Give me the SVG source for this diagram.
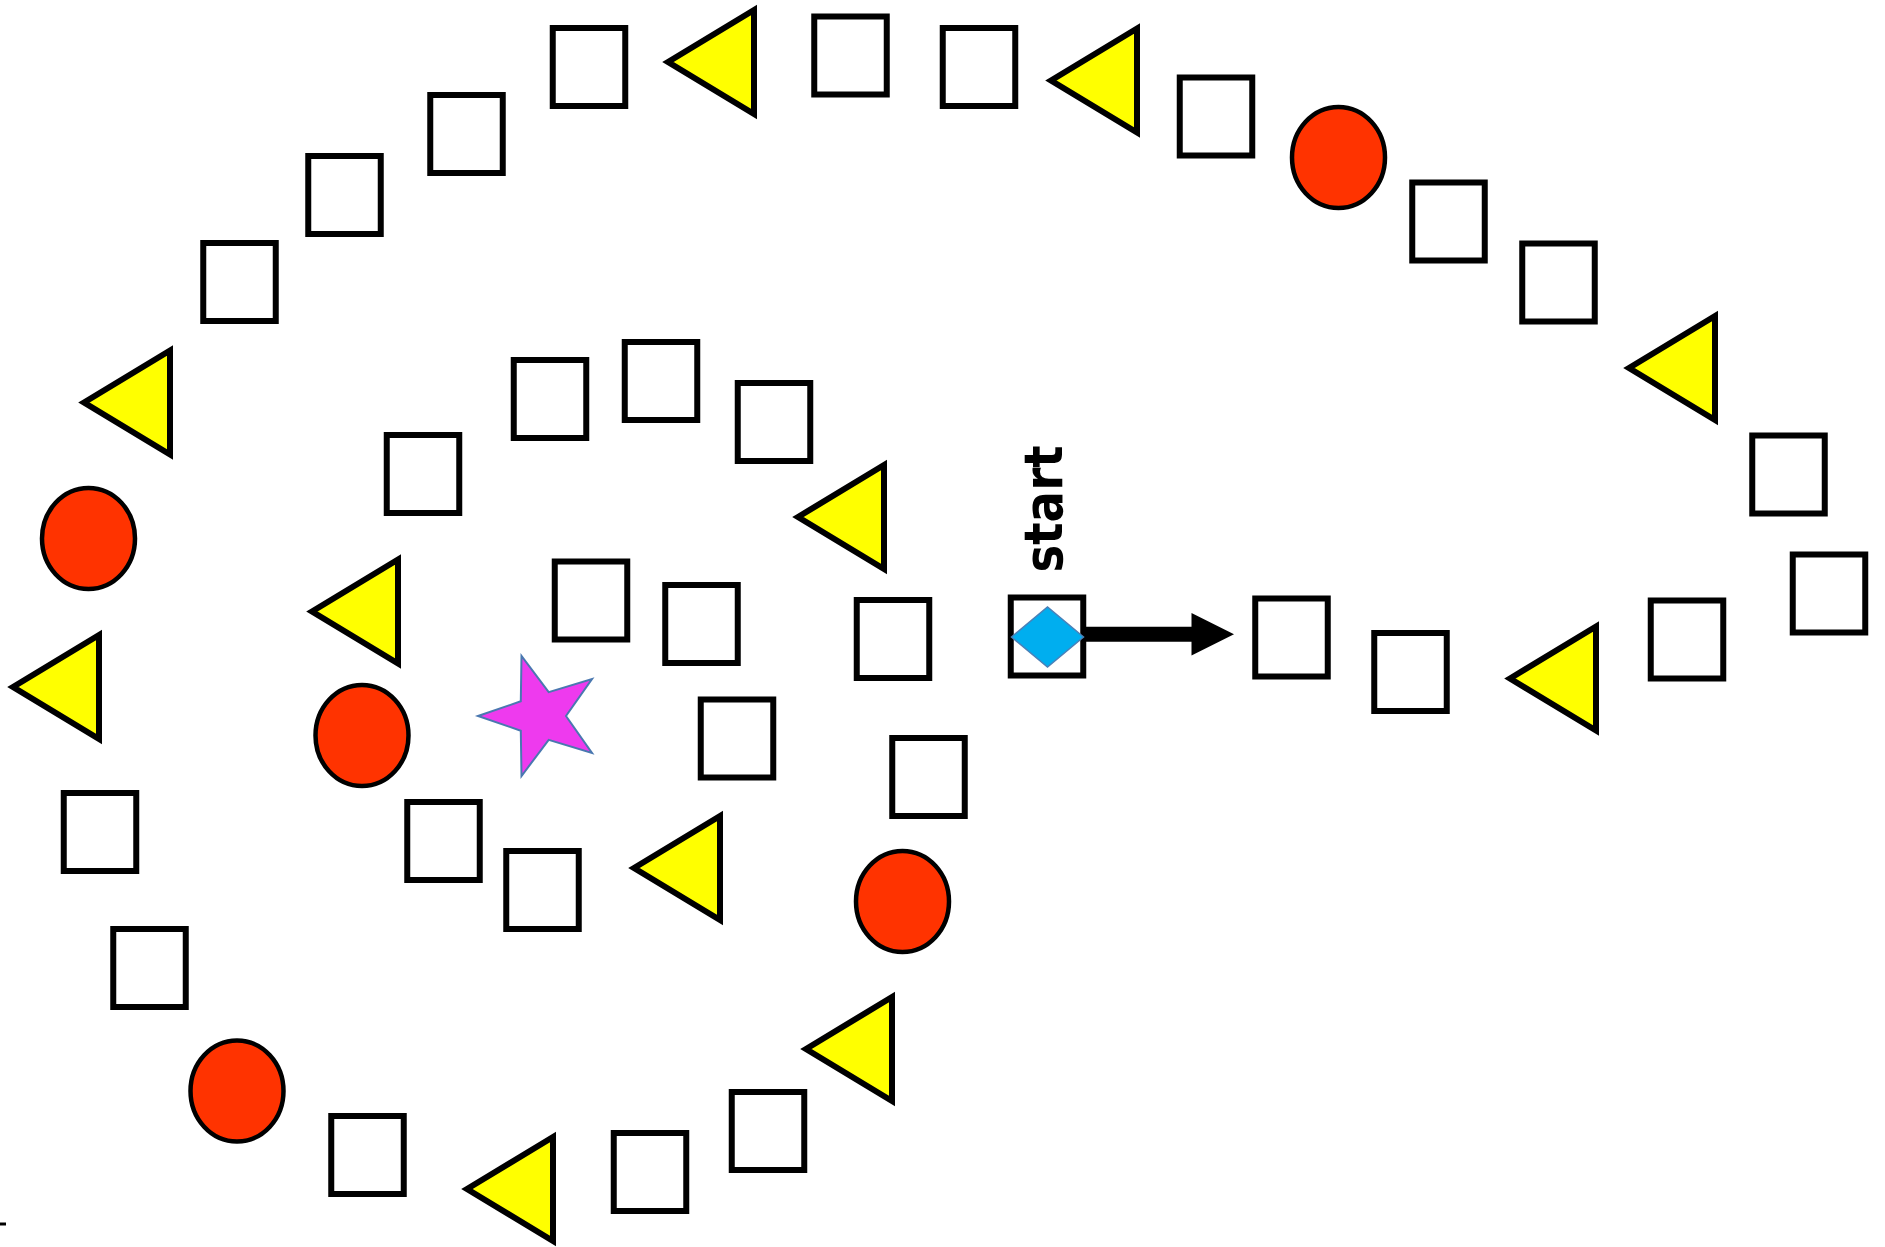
<svg xmlns="http://www.w3.org/2000/svg" width="1885" height="1247" viewBox="0 0 1885 1247">
<defs>
<style>
.sq{fill:#fff;stroke:#000;stroke-width:6}
.tri{fill:#ffff00;stroke:#000;stroke-width:6;stroke-linejoin:miter;stroke-miterlimit:10}
.cir{fill:#ff3300;stroke:#000;stroke-width:4.5}
.lbl{font-family:"DejaVu Sans","Liberation Sans",sans-serif;font-size:54px;font-weight:bold;fill:#000}
</style>
<rect id="sqr" class="sq" x="-36.25" y="-39" width="72.5" height="78"/>
<path id="trg" class="tri" d="M-43,0 L43,-52 L43,52 Z"/>
<ellipse id="crc" class="cir" cx="0" cy="0" rx="46.5" ry="50.5"/>
</defs>
<rect width="1885" height="1247" fill="#fff"/>
<g id="sq1"><use href="#sqr" x="589" y="67"/></g>
<g id="sq2"><use href="#sqr" x="850.5" y="55.5"/></g>
<g id="sq3"><use href="#sqr" x="979" y="67"/></g>
<g id="sq4"><use href="#sqr" x="1216" y="116.5"/></g>
<g id="sq5"><use href="#sqr" x="466.5" y="134"/></g>
<g id="sq6"><use href="#sqr" x="344.5" y="195"/></g>
<g id="sq7"><use href="#sqr" x="239.5" y="282"/></g>
<g id="sq8"><use href="#sqr" x="1448.5" y="221.5"/></g>
<g id="sq9"><use href="#sqr" x="1558.5" y="282.5"/></g>
<g id="sq10"><use href="#sqr" x="550" y="399"/></g>
<g id="sq11"><use href="#sqr" x="661" y="381"/></g>
<g id="sq12"><use href="#sqr" x="774" y="422"/></g>
<g id="sq13"><use href="#sqr" x="423" y="474"/></g>
<g id="sq14"><use href="#sqr" x="1788.5" y="474.5"/></g>
<g id="sq15"><use href="#sqr" x="1829" y="593.5"/></g>
<g id="sq16"><use href="#sqr" x="591" y="600.5"/></g>
<g id="sq17"><use href="#sqr" x="701.5" y="624"/></g>
<g id="sq18"><use href="#sqr" x="893" y="639"/></g>
<g id="sq20"><use href="#sqr" x="1291.5" y="637.5"/></g>
<g id="sq21"><use href="#sqr" x="1410.5" y="672"/></g>
<g id="sq22"><use href="#sqr" x="1687" y="639.5"/></g>
<g id="sq23"><use href="#sqr" x="737" y="738.5"/></g>
<g id="sq24"><use href="#sqr" x="928.5" y="777"/></g>
<g id="sq25"><use href="#sqr" x="100" y="832"/></g>
<g id="sq26"><use href="#sqr" x="443.5" y="841"/></g>
<g id="sq27"><use href="#sqr" x="542.5" y="890"/></g>
<g id="sq28"><use href="#sqr" x="149.5" y="968"/></g>
<g id="sq29"><use href="#sqr" x="367.5" y="1155"/></g>
<g id="sq30"><use href="#sqr" x="650" y="1172"/></g>
<g id="sq31"><use href="#sqr" x="768" y="1131"/></g>
<g id="tri1"><use href="#trg" x="711" y="62"/></g>
<g id="tri2"><use href="#trg" x="1094" y="80.5"/></g>
<g id="tri3"><use href="#trg" x="127" y="402.5"/></g>
<g id="tri4"><use href="#trg" x="1672" y="368"/></g>
<g id="tri5"><use href="#trg" x="841" y="517"/></g>
<g id="tri6"><use href="#trg" x="355" y="611.5"/></g>
<g id="tri7"><use href="#trg" x="56" y="687"/></g>
<g id="tri8"><use href="#trg" x="1553" y="678.5"/></g>
<g id="tri9"><use href="#trg" x="677" y="868"/></g>
<g id="tri10"><use href="#trg" x="849" y="1049"/></g>
<g id="tri11"><use href="#trg" x="510" y="1189"/></g>
<g id="circ1"><use href="#crc" x="88.5" y="538.5"/></g>
<g id="circ2"><use href="#crc" x="1338.5" y="157.5"/></g>
<g id="circ3"><use href="#crc" x="362" y="735.5"/></g>
<g id="circ4"><use href="#crc" x="902.5" y="901.5"/></g>
<g id="circ5"><use href="#crc" x="237" y="1091"/></g>
<g id="star"><polygon points="478,716 520.8,701.3 521.5,656 548.7,692.2 592,679 566,716 592,753 548.7,739.8 521.5,776 520.8,730.7" fill="#ee3aee" stroke="#4a78b0" stroke-width="2"/></g>
<g id="start">
<use href="#sqr" x="1047" y="636.5"/>
<polygon points="1011.5,637 1047.5,607 1083.5,637 1047.5,667" fill="#00aeef" stroke="#4a80b8" stroke-width="1.5"/>
<text class="lbl" text-anchor="middle" textLength="127" lengthAdjust="spacingAndGlyphs" transform="translate(1062,509) rotate(-90)">start</text>
</g>
<g id="connectors">
<line x1="1086" y1="634.2" x2="1193" y2="634.2" stroke="#000" stroke-width="15"/>
<polygon points="1191.5,613 1234,634.2 1191.5,655.5" fill="#000"/>
</g>
<line x1="0" y1="1224" x2="6" y2="1224" stroke="#000" stroke-width="3"/>
</svg>
